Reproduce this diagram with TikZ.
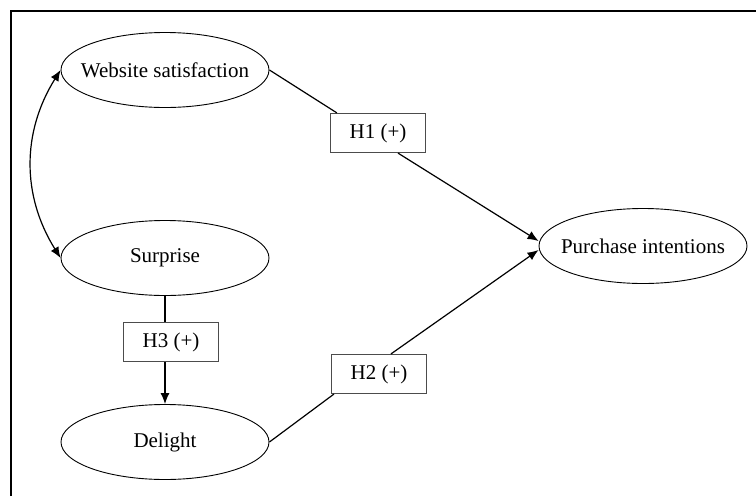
\documentclass[tikz,border=0pt]{standalone}
\usepackage{fontspec}
\setmainfont{Liberation Serif}
\usetikzlibrary{arrows.meta, shapes.geometric}

\begin{document}
\begin{tikzpicture}[
    x=1pt, y=-1pt,
    font=\fontsize{21}{25}\selectfont,
    konstruk/.style={draw, ellipse, minimum width=208pt, minimum height=75pt,
                     inner xsep=-24pt, inner ysep=0pt, line width=0.9pt},
    hipotesis/.style={draw=black!70, minimum width=95pt, minimum height=39pt,
                      inner sep=0pt, line width=1.2pt},
    garis/.style={line width=1.2pt},
    panah/.style={garis, -{Latex[length=11pt, width=9pt]}},
    panahdua/.style={garis, {Latex[length=11pt, width=9pt]}-{Latex[length=11pt, width=9pt]}}
  ]
    \useasboundingbox (0,0) rectangle (756,496);
    % bingkai (hanya tepi kiri dan atas yang terlihat)
    \draw[line width=1.4pt] (11,496) -- (11,11) -- (756,11);

    \node[konstruk] (situs) at (165,70) {Website satisfaction};
    \node[konstruk] (kejutan) at (165,258) {Surprise};
    \node[konstruk] (senang) at (165,442) {Delight};
    \node[konstruk] (niat) at (643,246) {Purchase intentions};

    \node[hipotesis] (h1) at (378,133) {H1 (+)};
    \node[hipotesis] (h3) at (171,342) {H3 (+)};
    \node[hipotesis] (h2) at (379,374) {H2 (+)};

    \draw[panahdua] (situs.west) to[bend right=32] (kejutan.west);

    \draw[garis] (situs.east) -- ([xshift=7pt]h1.north west);
    \draw[panah] ([xshift=20pt]h1.south) -- ([yshift=5pt]niat.west);

    \draw[garis] (senang.east) -- ([xshift=3pt]h2.south west);
    \draw[panah] ([xshift=12pt]h2.north) -- ([yshift=-4pt]niat.west);

    \draw[garis] (kejutan.south) -- (h3.north -| kejutan.south);
    \draw[panah] (h3.south -| kejutan.south) -- (senang.north);
  \end{tikzpicture}
\end{document}
